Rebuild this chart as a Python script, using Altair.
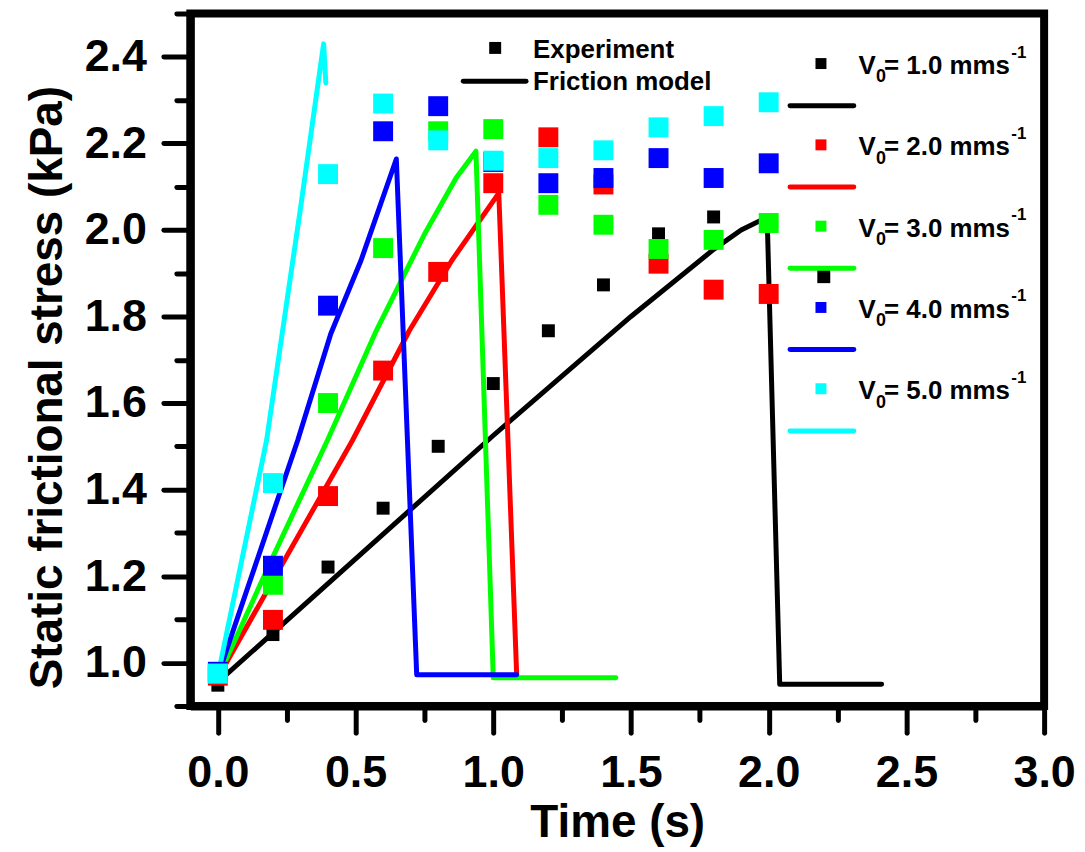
import altair as alt
import pandas as pd

# ---------------- data ----------------
t_exp = [0.0, 0.2, 0.4, 0.6, 0.8, 1.0, 1.2, 1.4, 1.6, 1.8, 2.0]
t_exp_black = t_exp + [2.2]

exp_v1 = [0.948, 1.065, 1.221, 1.357, 1.500, 1.645, 1.767, 1.873, 1.991, 2.030, 2.020, 1.892]
exp_v2 = [0.970, 1.099, 1.385, 1.675, 1.903, 2.108, 2.214, 2.105, 1.922, 1.862, 1.852]
exp_v3 = [0.975, 1.180, 1.600, 1.958, 2.228, 2.233, 2.058, 2.012, 1.956, 1.977, 2.016]
exp_v4 = [0.979, 1.224, 1.825, 2.228, 2.286, 2.157, 2.108, 2.120, 2.166, 2.120, 2.154]
exp_v5 = [0.975, 1.415, 2.129, 2.292, 2.207, 2.160, 2.166, 2.184, 2.237, 2.263, 2.295]

mod_t1 = [0.0, 0.5, 1.0, 1.5, 1.8, 1.9, 1.98, 1.995, 2.04, 2.41]
mod_v1 = [0.955, 1.24, 1.525, 1.80, 1.955, 2.0, 2.025, 2.015, 0.95, 0.95]
mod_t2 = [0.0, 0.2, 0.489, 0.695, 0.85, 1.02, 1.085]
mod_v2 = [0.965, 1.19, 1.514, 1.767, 1.93, 2.085, 0.972]
mod_t3 = [0.0, 0.2, 0.398, 0.575, 0.75, 0.865, 0.937, 1.0, 1.445]
mod_v3 = [0.965, 1.245, 1.514, 1.767, 1.99, 2.12, 2.182, 0.965, 0.965]
mod_t4 = [0.0, 0.29, 0.41, 0.52, 0.648, 0.722, 1.085]
mod_v4 = [0.97, 1.514, 1.76, 1.93, 2.164, 0.972, 0.972]
mod_t5 = [0.0, 0.177, 0.235, 0.3, 0.384, 0.392]
mod_v5 = [0.97, 1.514, 1.767, 2.05, 2.43, 2.34]

speeds = ["1.0", "2.0", "3.0", "4.0", "5.0"]
colors = ["#000000", "#FF0000", "#00FF00", "#0000FF", "#00FFFF"]
x_ticks = [0.0, 0.25, 0.5, 0.75, 1.0, 1.25, 1.5, 1.75, 2.0, 2.25, 2.5, 2.75, 3.0]
y_ticks = [0.9, 1.0, 1.1, 1.2, 1.3, 1.4, 1.5, 1.6, 1.7, 1.8, 1.9, 2.0, 2.1, 2.2, 2.3, 2.4, 2.5]

exp_t = [t_exp_black, t_exp, t_exp, t_exp, t_exp]
exp_y = [exp_v1, exp_v2, exp_v3, exp_v4, exp_v5]
mod_t = [mod_t1, mod_t2, mod_t3, mod_t4, mod_t5]
mod_y = [mod_v1, mod_v2, mod_v3, mod_v4, mod_v5]

FONT = "Liberation Sans"
W, H = 857, 695

xaxis = alt.Axis(
    values=x_ticks,
    labelExpr="abs(datum.value*2 - round(datum.value*2)) < 0.01 ? format(datum.value, '.1f') : ''",
    tickSize={"condition": {"test": "abs(datum.value*2 - round(datum.value*2)) > 0.01", "value": 14}, "value": 27},
    labelPadding=18,
    title="Time (s)",
    titleY=117, titleX=W / 2, titleBaseline="middle", titleAlign="center",
)
yaxis = alt.Axis(
    values=y_ticks,
    labelExpr="abs(datum.value*5 - round(datum.value*5)) < 0.01 ? format(datum.value, '.1f') : ''",
    tickSize={"condition": {"test": "abs(datum.value*5 - round(datum.value*5)) > 0.01", "value": 14}, "value": 27},
    labelPadding=17,
    title="Static frictional stress (kPa)",
    titleX=-143, titleY=375, titleBaseline="middle", titleAlign="center", titleAngle=-90,
)
X = alt.X("t:Q", scale=alt.Scale(domain=[-0.1, 3.0], nice=False, zero=False), axis=xaxis)
Y = alt.Y("y:Q", scale=alt.Scale(domain=[0.9, 2.5], nice=False, zero=False), axis=yaxis)

layers = []
for k in range(5):
    df = pd.DataFrame({"t": mod_t[k], "y": mod_y[k], "i": list(range(len(mod_t[k])))})
    layers.append(
        alt.Chart(df).mark_line(color=colors[k], strokeWidth=5, strokeCap="round",
                                strokeJoin="round", clip=True)
        .encode(x=X, y=Y, order=alt.Order("i:Q"))
    )
for k in range(5):
    df = pd.DataFrame({"t": exp_t[k], "y": exp_y[k]})
    layers.append(
        alt.Chart(df).mark_square(color=colors[k], opacity=1, size=169 if k == 0 else 400)
        .encode(x=X, y=Y)
    )

# ---------------- legends (pixel layout inside the plot area) ----------------
PX = alt.X("px:Q", scale=None, axis=None)
PY = alt.Y("py:Q", scale=None, axis=None)
STEP = 81.6

leg_sq = pd.DataFrame({"px": [633] * 5, "py": [50.2 + i * STEP for i in range(5)], "c": colors})
leg_ln = pd.DataFrame({"px": [602] * 5, "px2": [666] * 5,
                       "py": [92.5 + i * STEP for i in range(5)], "c": colors})
leg_v = pd.DataFrame({"px": [670.7] * 5, "py": [60.8 + i * STEP for i in range(5)], "s": ["V"] * 5})
leg_sub = pd.DataFrame({"px": [688.3] * 5, "py": [69.2 + i * STEP for i in range(5)], "s": ["0"] * 5})
leg_eq = pd.DataFrame({"px": [696.3] * 5, "py": [60.8 + i * STEP for i in range(5)],
                       "s": ["= " + s + " mms" for s in speeds]})
leg_sup = pd.DataFrame({"px": [824] * 5, "py": [44.2 + i * STEP for i in range(5)], "s": ["-1"] * 5})

cscale = alt.Color("c:N", scale=None, legend=None)
layers.append(alt.Chart(leg_sq).mark_square(size=121, opacity=1).encode(x=PX, y=PY, color=cscale))
layers.append(alt.Chart(leg_ln).mark_rule(strokeWidth=5, strokeCap="round")
              .encode(x=PX, x2="px2:Q", y=PY, color=cscale))

def txt(df, size):
    return alt.Chart(df).mark_text(font=FONT, fontWeight="bold", fontSize=size, align="left",
                                   baseline="alphabetic", color="black").encode(x=PX, y=PY, text="s:N")

layers += [txt(leg_v, 26), txt(leg_sub, 18), txt(leg_eq, 26), txt(leg_sup, 17)]

top_sq = pd.DataFrame({"px": [306], "py": [34.5], "c": ["#000000"]})
top_ln = pd.DataFrame({"px": [274], "px2": [337], "py": [68], "c": ["#000000"]})
top_tx = pd.DataFrame({"px": [344, 344], "py": [44.5, 76.5], "s": ["Experiment", "Friction model"]})
layers.append(alt.Chart(top_sq).mark_square(size=144, opacity=1).encode(x=PX, y=PY, color=cscale))
layers.append(alt.Chart(top_ln).mark_rule(strokeWidth=5, strokeCap="round")
              .encode(x=PX, x2="px2:Q", y=PY, color=cscale))
layers.append(txt(top_tx, 26))

chart = (
    alt.layer(*layers)
    .properties(width=W, height=H, padding={"left": 183, "top": 4, "right": 33, "bottom": 142},
                autosize=alt.AutoSizeParams(type="none"), background="white")
    .configure_view(stroke="black", strokeWidth=8)
    .configure_axis(
        domainColor="black", domainWidth=8, tickColor="black", tickWidth=5, tickCap="round",
        grid=False, labelFont=FONT, labelFontWeight="bold", labelFontSize=45, labelColor="black",
        titleFont=FONT, titleFontWeight="bold", titleFontSize=46, titleColor="black",
        labelFlush=False, labelOverlap=False,
    )
)

chart.save("out.html", embed_options={"renderer": "svg", "actions": False})
